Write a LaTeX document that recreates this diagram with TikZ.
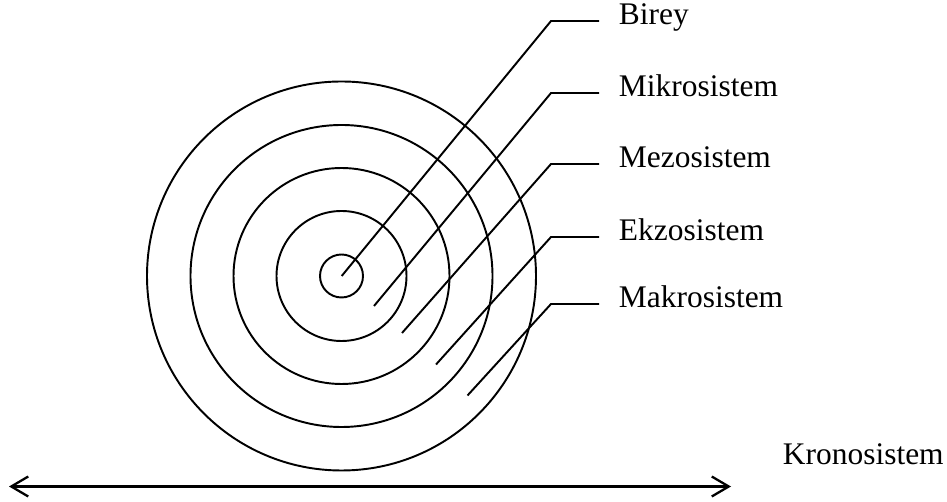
\documentclass[tikz,border=0pt]{standalone}
\usepackage{fontspec}
\setmainfont{Liberation Serif}
\usetikzlibrary{arrows.meta}

\begin{document}
\begin{tikzpicture}[
  x=0.02cm, y=-0.02cm,
  line width=1.1pt,
  layer/.style={anchor=west, inner xsep=0.38cm, inner ysep=0pt,
    text height=0.66em, text depth=0.22em, font=\fontsize{17.9}{20}\selectfont},
  timeline/.style={line width=1.3pt,
    {Straight Barb[length=0.34cm,width=0.4cm]}-{Straight Barb[length=0.34cm,width=0.4cm]}},
]
  \useasboundingbox (0,0) rectangle (947,502);

  % the nested systems
  \coordinate (centre) at (341.5,276);
  \foreach \r in {21.5,65,108,151,194.5}
    \draw (centre) circle [radius=\r];

  % names on the right
  \node[layer] (birey) at (599,21) {Birey};
  \node[layer] (mikro) at (599,93) {Mikrosistem};
  \node[layer] (mezo) at (599,164) {Mezosistem};
  \node[layer] (ekzo) at (599,237) {Ekzosistem};
  \node[layer] (makro) at (599,304) {Makrosistem};
  \node[layer, inner xsep=0pt] (krono) at (782,461) {Kronosistem};

  % pointers
  \coordinate (p1) at (341.7,276);
  \coordinate (p2) at (374,306);
  \coordinate (p3) at (402,333);
  \coordinate (p4) at (436,364.5);
  \coordinate (p5) at (467.5,395.5);
  \draw (p1) -- ([xshift=-0.96cm]birey.west) -- (birey.west);
  \draw (p2) -- ([xshift=-0.96cm]mikro.west) -- (mikro.west);
  \draw (p3) -- ([xshift=-0.96cm]mezo.west) -- (mezo.west);
  \draw (p4) -- ([xshift=-0.96cm]ekzo.west) -- (ekzo.west);
  \draw (p5) -- ([xshift=-0.96cm]makro.west) -- (makro.west);

  % time axis
  \coordinate (past) at (9,486.5);
  \coordinate (future) at (731,486.5);
  \draw[timeline] (past) -- (future);
\end{tikzpicture}
\end{document}
